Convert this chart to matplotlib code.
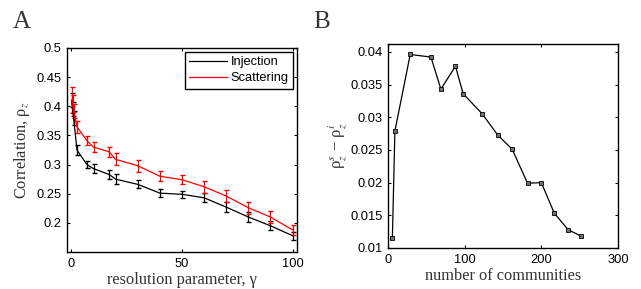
import matplotlib
matplotlib.use('Agg')
import matplotlib.pyplot as plt
from matplotlib.lines import Line2D

plt.rcParams['font.family'] = ['Liberation Sans', 'DejaVu Sans']
plt.rcParams['mathtext.fontset'] = 'stix'

# --- Panel A data ---
gamma = [0.1, 0.5, 1, 2.5, 7, 10, 17, 20, 30, 40, 50, 60, 70, 80, 90, 100]
inj_mean = [0.410, 0.395, 0.380, 0.325, 0.300, 0.293, 0.283, 0.275, 0.266, 0.251,
            0.249, 0.243, 0.227, 0.210, 0.195, 0.178]
inj_err = [0.012, 0.012, 0.012, 0.008, 0.006, 0.008, 0.007, 0.008, 0.007, 0.007,
           0.006, 0.008, 0.008, 0.008, 0.008, 0.007]
sca_mean = [0.411, 0.405, 0.392, 0.365, 0.341, 0.330, 0.322, 0.309, 0.298, 0.280,
            0.274, 0.262, 0.246, 0.226, 0.210, 0.188]
sca_err = [0.022, 0.015, 0.012, 0.010, 0.008, 0.009, 0.009, 0.010, 0.010, 0.009,
           0.008, 0.010, 0.011, 0.010, 0.011, 0.009]

# --- Panel B data ---
n_comm = [5.7, 9, 29, 56, 69, 88, 98, 123, 143, 162, 182, 200, 217, 235, 252]
rho_diff = [0.0115, 0.0279, 0.0396, 0.0392, 0.0343, 0.0378, 0.0336, 0.0305, 0.0273,
            0.0251, 0.0199, 0.0200, 0.0153, 0.0128, 0.0118]

fig = plt.figure(figsize=(6.41, 2.89), dpi=100)
label_color = '#333333'
serif = ['Liberation Serif', 'DejaVu Serif']

def style_axes(ax):
    ax.tick_params(direction='in', length=2.5, width=0.8, labelsize=9.3,
                   top=True, right=True, pad=4)
    for s in ax.spines.values():
        s.set_linewidth(1.0)

# ========== A ==========
ax1 = fig.add_axes([67 / 641, 37 / 289, 230 / 641, 204 / 289])
ax1.errorbar(gamma, inj_mean, yerr=inj_err, color='black', lw=0.9,
             elinewidth=0.9, capsize=1.8)
ax1.errorbar(gamma, sca_mean, yerr=sca_err, color='red', lw=0.9,
             elinewidth=0.9, capsize=1.8)
ax1.set_xlim(-2, 102)
ax1.set_ylim(0.15, 0.5)
ax1.set_xticks([0, 50, 100])
ax1.set_yticks([0.2, 0.25, 0.3, 0.35, 0.4, 0.45, 0.5])
ax1.set_yticklabels(['0.2', '0.25', '0.3', '0.35', '0.4', '0.45', '0.5'])
style_axes(ax1)
ax1.set_xlabel('resolution parameter, γ', family=serif, fontsize=11.8,
               color=label_color, labelpad=2)
ax1.set_ylabel('Correlation, ρ$_z$', family=serif, fontsize=11.8,
               color=label_color, labelpad=3)
handles = [Line2D([], [], color='black', lw=0.9), Line2D([], [], color='red', lw=0.9)]
leg = ax1.legend(handles, ['Injection', 'Scattering'], loc='upper right',
                 fontsize=9.3, fancybox=False, framealpha=1, edgecolor='black',
                 handlelength=2.9, borderpad=0.35, labelspacing=0.3,
                 handletextpad=0.3, borderaxespad=0.3)
leg.get_frame().set_linewidth(1.0)
fig.text(13 / 641, 1 - 28 / 289, 'A', family=serif, fontsize=18, color=label_color)

# ========== B ==========
ax2 = fig.add_axes([388 / 641, 41 / 289, 230 / 641, 204 / 289])
ax2.plot(n_comm, rho_diff, color='black', lw=0.9, marker='s', markersize=3.5,
         markerfacecolor='#707070', markeredgecolor='black', markeredgewidth=0.6)
ax2.set_xlim(0, 300)
ax2.set_ylim(0.01, 0.0412)
ax2.set_xticks([0, 100, 200, 300])
ax2.set_yticks([0.01, 0.015, 0.02, 0.025, 0.03, 0.035, 0.04])
ax2.set_yticklabels(['0.01', '0.015', '0.02', '0.025', '0.03', '0.035', '0.04'])
style_axes(ax2)
ax2.set_xlabel('number of communities', family=serif, fontsize=11.8,
               color=label_color, labelpad=2)
ax2.set_ylabel('ρ$_z^s$ − ρ$_z^i$', family=serif, fontsize=12,
               color=label_color, labelpad=1)
fig.text(313 / 641, 1 - 28 / 289, 'B', family=serif, fontsize=18, color=label_color)

plt.savefig('out.png', dpi=100)
